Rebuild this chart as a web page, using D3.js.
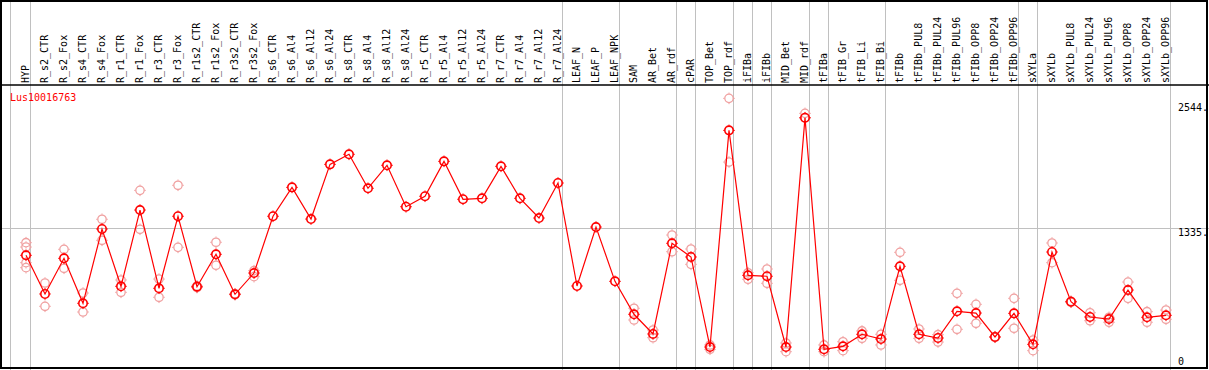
<!DOCTYPE html>
<html>
<head>
<meta charset="utf-8">
<script src="https://cdn.jsdelivr.net/npm/d3@7"></script>
<style>
  body { margin: 0; background: #fff; }
  svg { display: block; }
</style>
</head>
<body>
<div id="chart"></div>
<script>

/* Sample names (columns) */
var samples = ["HYP", "R_s2_CTR", "R_s2_Fox", "R_s4_CTR", "R_s4_Fox", "R_r1_CTR", "R_r1_Fox",
    "R_r3_CTR", "R_r3_Fox", "R_r1s2_CTR", "R_r1s2_Fox", "R_r3s2_CTR", "R_r3s2_Fox",
    "R_s6_CTR", "R_s6_Al4", "R_s6_Al12", "R_s6_Al24", "R_s8_CTR", "R_s8_Al4", "R_s8_Al12", "R_s8_Al24",
    "R_r5_CTR", "R_r5_Al4", "R_r5_Al12", "R_r5_Al24", "R_r7_CTR", "R_r7_Al4", "R_r7_Al12", "R_r7_Al24",
    "LEAF_N", "LEAF_P", "LEAF_NPK", "SAM", "AR_Bet", "AR_rdf", "cPAR", "TOP_Bet", "TOP_rdf",
    "iFIBa", "iFIBb", "MID_Bet", "MID_rdf", "tFIBa", "tFIB_Gr", "tFIB_Li", "tFIB_Bi",
    "tFIBb", "tFIBb_PUL8", "tFIBb_PUL24", "tFIBb_PUL96", "tFIBb_OPP8", "tFIBb_OPP24", "tFIBb_OPP96",
    "sXYLa", "sXYLb", "sXYLb_PUL8", "sXYLb_PUL24", "sXYLb_PUL96", "sXYLb_OPP8", "sXYLb_OPP24", "sXYLb_OPP96"];

/* Mean expression per sample */
var means = [1071, 698, 1042, 608, 1325, 772, 1508, 753, 1448, 768, 1081, 695, 900,
    1448, 1727, 1421, 1949, 2046, 1718, 1940, 1540,
    1641, 1978, 1612, 1621, 1930, 1621, 1431, 1769,
    775, 1344, 820, 502, 312, 1187, 1055, 186, 2277,
    878, 869, 186, 2399, 164, 193, 309, 263,
    965, 309, 273, 531, 514, 283, 511,
    212, 1103, 623, 476, 456, 736, 473, 492];

/* Replicate values per sample */
var replicates = [[1193, 1151, 1000, 952], [804, 579], [1129, 946], [707, 524], [1419, 1216], [833, 714],
    [1698, 1322], [842, 666], [1747, 1148], [760, 776], [1197, 975], [690, 700], [923, 865],
    [], [], [], [], [], [], [], [],
    [], [], [], [], [], [], [], [],
    [], [], [], [560, 447], [350, 276], [1267, 1106], [1132, 984], [164, 206], [2586, 1971],
    [903, 840], [939, 801], [225, 141], [2441, 2396], [206, 141], [237, 151], [341, 270], [309, 206],
    [1100, 830], [360, 270], [305, 234], [704, 357], [598, 415], [280, 286], [656, 367],
    [254, 151], [1190, 1000], [618, 628], [517, 440], [473, 425], [813, 656], [527, 425], [543, 454]];

/* Column indexes followed by a group separator */
var groupEnds = [0, 28, 31, 34, 35, 37, 38, 39, 41, 42, 45, 52, 53, 60];

/* Y tick labels */
var yTicks = [2544, 1335, 0];
var yMax = 2544;
var title = "Lus10016763";

var width = 1209,
    height = 370,
    headerY = 85,
    fontFamily = "'DejaVu Sans Mono', 'Liberation Mono', monospace";

var svg = d3.select("#chart")
    .append("svg")
    .attr("width", width)
    .attr("height", height);

var x = d3.scaleLinear()
    .domain([0, samples.length - 1])
    .range([26, 1166]);

var y = d3.scaleLinear()
    .domain([0, yMax])
    .range([366.3, 102.7]);

/* Grid: vertical group separators */
svg.append("line")
    .attr("x1", x(0) - 15.5).attr("x2", x(0) - 15.5)
    .attr("y1", 0).attr("y2", height)
    .attr("stroke", "#c0c0c0");

svg.append("g")
    .selectAll("line")
    .data(groupEnds)
    .enter().append("line")
    .attr("x1", function(d) { return x(d) + 4.5; })
    .attr("x2", function(d) { return x(d) + 4.5; })
    .attr("y1", 0)
    .attr("y2", height)
    .attr("stroke", "#c0c0c0");

/* Horizontal grid line at middle tick */
svg.append("line")
    .attr("x1", 0).attr("x2", width)
    .attr("y1", Math.round(y(yTicks[1])) + 0.5)
    .attr("y2", Math.round(y(yTicks[1])) + 0.5)
    .attr("stroke", "#c0c0c0");

/* Frame */
svg.append("rect")
    .attr("x", 1).attr("y", 1)
    .attr("width", width - 3).attr("height", height - 3)
    .attr("fill", "none")
    .attr("stroke", "#000")
    .attr("stroke-width", 2);

svg.append("line")
    .attr("x1", 0).attr("x2", width)
    .attr("y1", headerY).attr("y2", headerY)
    .attr("stroke", "#000")
    .attr("stroke-width", 1.5);

/* Column labels */
svg.append("g")
    .selectAll("text")
    .data(samples)
    .enter().append("text")
    .attr("transform", function(d, i) { return "translate(" + (x(i) + 3) + "," + (headerY - 2) + ") rotate(-90)"; })
    .attr("font-family", fontFamily)
    .attr("font-size", 10)
    .attr("fill", "#000")
    .text(function(d) { return d; });

/* Title */
svg.append("text")
    .attr("x", 10)
    .attr("y", 101)
    .attr("font-family", fontFamily)
    .attr("font-size", 10)
    .attr("fill", "#ff0000")
    .text(title);

/* Y tick labels */
svg.append("g")
    .selectAll("text")
    .data(yTicks)
    .enter().append("text")
    .attr("x", 1178)
    .attr("y", function(d) { return d === 0 ? 365 : y(d) + 8; })
    .attr("font-family", fontFamily)
    .attr("font-size", 10)
    .attr("fill", "#000")
    .text(function(d) { return d === 0 ? "0" : d + "."; });

/* Marker: circle with small ticks */
function marker(g, color, sw) {
    g.append("circle")
        .attr("r", 4.2)
        .attr("fill", "none")
        .attr("stroke", color)
        .attr("stroke-width", sw);
    g.append("path")
        .attr("d", "M0,-4.5V-5.8M0,4.5V5.8M-4.5,0H-5.8M4.5,0H5.8")
        .attr("stroke", color)
        .attr("stroke-width", 1);
}

/* Replicates */
var repPoints = [];
replicates.forEach(function(list, i) {
    list.forEach(function(v) { repPoints.push({ i: i, v: v }); });
});

svg.append("g")
    .selectAll("g")
    .data(repPoints)
    .enter().append("g")
    .attr("transform", function(d) { return "translate(" + x(d.i) + "," + y(d.v) + ")"; })
    .each(function() { marker(d3.select(this), "#f0a0a0", 1.3); });

/* Mean line */
var line = d3.line()
    .x(function(d, i) { return x(i); })
    .y(function(d) { return y(d); });

svg.append("path")
    .datum(means)
    .attr("d", line)
    .attr("fill", "none")
    .attr("stroke", "#ff0000")
    .attr("stroke-width", 1.2);

svg.append("g")
    .selectAll("g")
    .data(means)
    .enter().append("g")
    .attr("transform", function(d, i) { return "translate(" + x(i) + "," + y(d) + ")"; })
    .each(function() { marker(d3.select(this), "#ff0000", 1.6); });

</script>
</body>
</html>
